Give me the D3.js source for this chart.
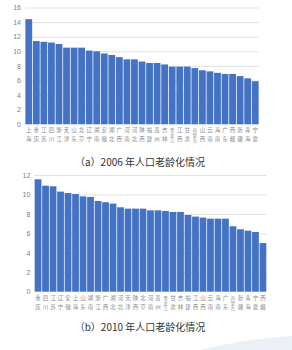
<!DOCTYPE html>
<meta charset="utf-8">
<style>
  body { margin: 0; background: #fff; }
  svg { display: block; font-family: "Noto Sans CJK SC", "Noto Sans", sans-serif; }
  .tick text { fill: #7f7f7f; font-size: 7px; }
  .grid line { stroke: #d9d9d9; stroke-width: 0.8; }
  .grid path { display: none; }
  .cat { fill: #8a8a8a; font-size: 5.5px; text-anchor: middle; }
  .cat.long { font-size: 4.2px; }
  .caption { fill: #333; font-size: 10px; text-anchor: middle; }
</style>
<svg width="292" height="350"></svg>
<script src="https://cdnjs.cloudflare.com/ajax/libs/d3/7.8.5/d3.min.js"></script>
<script>
// 2006
var prov2006 = ["上海","重庆","江苏","四川","浙江","天津","山东","北京","辽宁","湖南","安徽",
  "湖北","广西","河南","河北","陕西","福建","贵州","吉林","黑龙江","江西","甘肃","内蒙古",
  "山西","云南","海南","广东","西藏","新疆","青海","宁夏"];
var val2006 = [14.4,11.4,11.3,11.2,11.0,10.5,10.5,10.5,10.1,10.0,9.7,9.5,9.2,8.9,8.9,8.6,
  8.4,8.4,8.2,7.9,7.9,7.9,7.7,7.4,7.25,7.05,6.9,6.9,6.6,6.3,5.9];
var ticks2006 = [0,2,4,6,8,10,12,14,16];

// 2010
var prov2010 = ["重庆","四川","江苏","辽宁","安徽","上海","山东","湖南","浙江","广西","湖北",
  "河北","天津","陕西","北京","河南","贵州","黑龙江","甘肃","吉林","福建","江西","山西",
  "云南","海南","广东","内蒙古","新疆","青海","宁夏","西藏"];
var val2010 = [11.56,10.9,10.84,10.29,10.15,10.05,9.8,9.74,9.33,9.2,9.06,8.68,8.54,8.54,8.54,
  8.37,8.37,8.3,8.2,8.2,7.89,7.72,7.62,7.51,7.51,7.51,6.73,6.42,6.28,6.14,5.0];
var ticks2010 = [0,2,4,6,8,10,12];

var svg = d3.select("svg");

function drawChart(cfg) {
  var x = d3.scaleBand()
      .domain(cfg.names)
      .range([cfg.left, cfg.right])
      .paddingInner(0.1)
      .paddingOuter(0.05);
  var y = d3.scaleLinear()
      .domain([0, d3.max(cfg.ticks)])
      .range([cfg.bottom, cfg.top]);

  var g = svg.append("g");

  g.append("g")
      .attr("class", "grid")
      .attr("transform", "translate(" + cfg.left + ",0)")
      .call(d3.axisLeft(y).tickValues(cfg.ticks).tickSize(-(cfg.right - cfg.left)).tickPadding(4))
      .call(function(a) { a.selectAll(".tick line").filter(function(d) { return d === 0; }).remove(); });

  g.selectAll("rect")
      .data(cfg.values)
    .enter().append("rect")
      .attr("x", function(d, i) { return x(cfg.names[i]); })
      .attr("y", function(d) { return y(d); })
      .attr("width", x.bandwidth())
      .attr("height", function(d) { return cfg.bottom - y(d); })
      .attr("fill", "#4472c4");

  // vertical stacked labels, 3-char names squeezed
  var lab = g.selectAll(".cat")
      .data(cfg.names)
    .enter().append("text")
      .attr("class", function(d) { return d.length > 2 ? "cat long" : "cat"; })
      .attr("x", function(d) { return x(d) + x.bandwidth() / 2; })
      .attr("y", cfg.bottom + 8);
  lab.selectAll("tspan")
      .data(function(d) { return d.split(""); })
    .enter().append("tspan")
      .attr("x", function() { return this.parentNode.getAttribute("x"); })
      .attr("dy", function(d, i) { return i === 0 ? 0 : (this.parentNode.__data__.length > 2 ? 5 : 9); })
      .text(function(d) { return d; });

  svg.append("text")
      .attr("class", "caption")
      .attr("x", 140)
      .attr("y", cfg.capY)
      .text(cfg.caption);
}

drawChart({names: prov2006, values: val2006, ticks: ticks2006,
  left: 25, right: 259, top: 7.5, bottom: 124.3, capY: 166,
  caption: "（a）2006 年人口老龄化情况"});
drawChart({names: prov2010, values: val2010, ticks: ticks2010,
  left: 34.3, right: 266.7, top: 175, bottom: 291.7, capY: 331,
  caption: "（b）2010 年人口老龄化情况"});

// faint decoration bottom right
svg.append("path")
    .attr("d", "M200,350 Q250,338 292,336 L292,350 Z")
    .attr("fill", "#eaf0f6");
</script>
